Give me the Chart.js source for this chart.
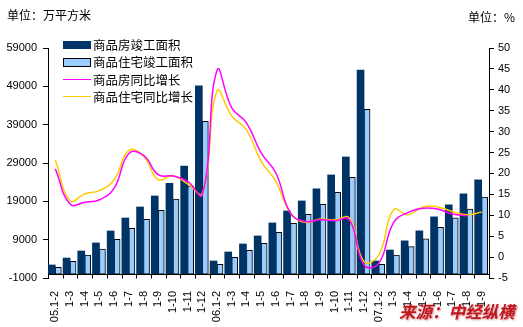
<!DOCTYPE html>
<html>
<head>
<meta charset="utf-8">
<script src="https://cdn.jsdelivr.net/npm/chart.js@4/dist/chart.umd.min.js"></script>
<style>
  body { margin: 0; background: #fff; }
  #wrap { position: relative; width: 523px; height: 327px; font-family: "Noto Sans CJK SC", sans-serif; color: #000; }
  #wrap canvas { position: absolute; left: 0; top: 0; }
  .txt { position: absolute; white-space: nowrap; line-height: 16px; }
  .unit { font-size: 12px; }
  .lg { font-size: 12.5px; left: 93px; }
  .sw { position: absolute; left: 63px; width: 28px; box-sizing: border-box; }
  #source { position: absolute; left: 399px; top: 301px; font-size: 16.5px; font-weight: bold; font-style: italic;
            color: #c0161e; text-shadow: 1px 1px 2px rgba(160, 0, 0, 0.45); white-space: nowrap; line-height: 20px; }
</style>
</head>
<body>
<div id="wrap">
  <canvas id="completionChart" width="523" height="327"></canvas>
  <div class="txt unit" style="left:7px; top:7px;">单位：万平方米</div>
  <div class="txt unit" style="left:468px; top:9px;">单位：%</div>

  <div class="sw" style="top:41px; height:8px; background:#003366;"></div>
  <div class="txt lg" style="top:37px;">商品房竣工面积</div>
  <div class="sw" style="top:58px; height:9px; background:#99ccff; border:1px solid #000;"></div>
  <div class="txt lg" style="top:54px;">商品住宅竣工面积</div>
  <div class="sw" style="top:79px; height:0; border-top:1.5px solid #ff00ff;"></div>
  <div class="txt lg" style="top:72px;">商品房同比增长</div>
  <div class="sw" style="top:96px; height:0; border-top:1.5px solid #ffcc00;"></div>
  <div class="txt lg" style="top:89px;">商品住宅同比增长</div>

  <div id="source">来源：中经纵横</div>
</div>
<script>
const labels = [
  "05.1-2", "1-3", "1-4", "1-5", "1-6", "1-7", "1-8", "1-9", "1-10", "1-11", "1-12",
  "06.1-2", "1-3", "1-4", "1-5", "1-6", "1-7", "1-8", "1-9", "1-10", "1-11", "1-12",
  "07.1-2", "1-3", "1-4", "1-5", "1-6", "1-7", "1-8", "1-9"
];

// 万平方米
const allArea = [
  2400, 4200, 6050, 8150, 11270, 14650, 17530, 20400, 23700, 28200, 49100,
  3440, 5790, 7880, 9970, 13360, 16490, 19100, 22230, 25880, 30580, 53270,
  3440, 6300, 8690, 11300, 14950, 18080, 20950, 24600
];
const houseArea = [
  1800, 3350, 5000, 6570, 9100, 11970, 14320, 16670, 19600, 23000, 39900,
  2570, 4400, 6230, 8050, 10930, 13270, 15630, 18240, 21370, 25280, 43020,
  2570, 4950, 7170, 9200, 12250, 14700, 16950, 20100
];

// %
const allGrowth = [
  21.1, 12.7, 13.1, 13.7, 16.5, 24.8, 24.3, 19.7, 19.4, 18.1, 14.9,
  44.7, 35.7, 32.1, 24.9, 20.1, 10.5, 8.5, 8.9, 8.7, 8.9, -1.9,
  -1.5, 8.2, 10.7, 11.7, 11.5, 10.3, 9.9, null
];
const houseGrowth = [
  23.3, 13.5, 15.1, 15.9, 18.5, 25.5, 24.1, 18.5, 19.5, 17.5, 15.3,
  39.7, 33.7, 30.5, 22.9, 18.1, 10.5, 8.3, 9.1, 8.9, 9.3, -1.1,
  0.5, 11.3, 10.1, 12.0, 12.0, 10.9, 10.1, 10.8
];

const leftTicks = [-1000, 9000, 19000, 29000, 39000, 49000, 59000];
const rightTicks = [-5, 0, 5, 10, 15, 20, 25, 30, 35, 40, 45, 50];

const color = {
  Navy: "#003366",
  Sky: "#99ccff",
  Magenta: "#ff00ff",
  Gold: "#ffcc00",
  Black: "#000000",
};

const tickFont = { family: "'Liberation Sans', Arial, sans-serif", size: 11 };

// category axis sits at value 0, with small ticks between categories
const zeroAxis = {
  id: "zeroAxis",
  afterDraw(chart) {
    const { ctx, chartArea, scales } = chart;
    const y0 = Math.round(scales.y.getPixelForValue(0)) + 0.5;
    const step = (chartArea.right - chartArea.left) / labels.length;
    ctx.save();
    ctx.strokeStyle = color.Black;
    ctx.lineWidth = 1;
    ctx.beginPath();
    ctx.moveTo(chartArea.left, y0);
    ctx.lineTo(chartArea.right, y0);
    for (let i = 0; i <= labels.length; i++) {
      const x = Math.round(chartArea.left + i * step) + 0.5;
      ctx.moveTo(x, y0);
      ctx.lineTo(x, y0 + 4);
    }
    ctx.stroke();
    ctx.restore();
  }
};

const completionData = {
  labels: labels,
  datasets: [
    {
      type: "bar",
      label: "商品房竣工面积",
      data: allArea,
      backgroundColor: color.Navy,
      borderWidth: 0,
      barThickness: 7,
      yAxisID: "y",
      order: 1,
    },
    {
      type: "bar",
      label: "商品住宅竣工面积",
      data: houseArea,
      backgroundColor: color.Sky,
      borderColor: color.Black,
      borderWidth: 1,
      borderSkipped: false,
      barThickness: 6,
      yAxisID: "y",
      order: 2,
    },
    {
      type: "line",
      label: "商品房同比增长",
      data: allGrowth,
      borderColor: color.Magenta,
      backgroundColor: color.Magenta,
      borderWidth: 1.5,
      pointRadius: 0,
      tension: 0.45,
      fill: false,
      yAxisID: "y1",
      order: 0,
    },
    {
      type: "line",
      label: "商品住宅同比增长",
      data: houseGrowth,
      borderColor: color.Gold,
      backgroundColor: color.Gold,
      borderWidth: 1.5,
      pointRadius: 0,
      tension: 0.45,
      fill: false,
      yAxisID: "y1",
      order: 0,
    },
  ],
};

const completionConfig = {
  type: "bar",
  data: completionData,
  plugins: [zeroAxis],
  options: {
    responsive: false,
    animation: false,
    layout: { padding: { top: 48, left: 0, right: 0, bottom: 0 } },
    plugins: {
      legend: { display: false },
      tooltip: { enabled: false },
    },
    scales: {
      x: {
        grid: { display: false },
        border: { display: false },
        ticks: {
          font: tickFont,
          color: color.Black,
          minRotation: 90,
          maxRotation: 90,
          autoSkip: false,
          padding: 5,
        },
        afterFit: (s) => { s.height = 49; },
      },
      y: {
        position: "left",
        min: -1000,
        max: 59000,
        afterBuildTicks: (s) => { s.ticks = leftTicks.map(v => ({ value: v })); },
        ticks: {
          font: tickFont,
          color: color.Black,
          padding: 6,
          callback: (v) => String(v),
        },
        grid: { drawOnChartArea: false, tickLength: 5, color: color.Black },
        border: { color: color.Black },
        afterFit: (s) => { s.width = 48; },
      },
      y1: {
        position: "right",
        min: -5,
        max: 50,
        afterBuildTicks: (s) => { s.ticks = rightTicks.map(v => ({ value: v })); },
        ticks: {
          font: tickFont,
          color: color.Black,
          padding: 4,
          callback: (v) => String(v),
        },
        grid: { drawOnChartArea: false, tickLength: 5, color: color.Black },
        border: { color: color.Black },
        afterFit: (s) => { s.width = 34; },
      },
    },
  },
};

const completionChart = new Chart(document.getElementById("completionChart"), completionConfig);
</script>
</body>
</html>
